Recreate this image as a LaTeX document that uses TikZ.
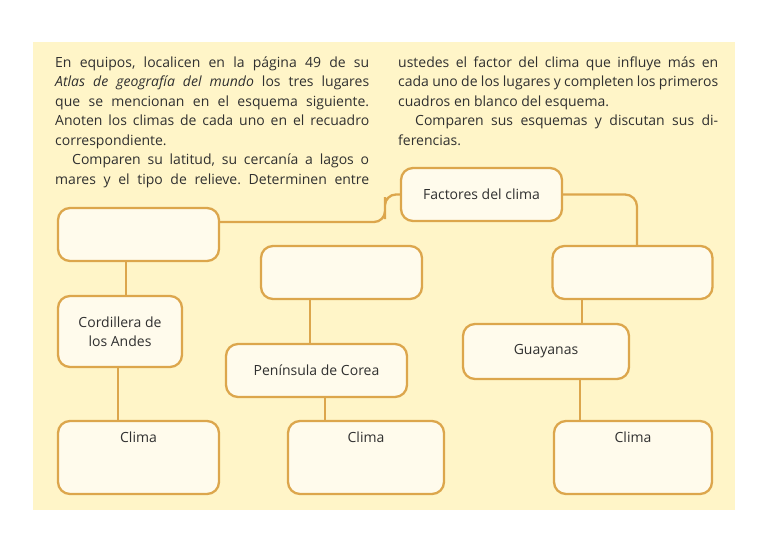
\documentclass[tikz,border=0pt]{standalone}
\usepackage{fontspec}
\setmainfont{Open Sans}
\definecolor{panel}{HTML}{FFF5C8}
\definecolor{boxfill}{HTML}{FFFBEC}
\definecolor{border}{HTML}{DCA64C}
\definecolor{ink}{HTML}{303030}
\newcommand{\fsbody}{\fontsize{14}{19.5}\selectfont\frenchspacing\hyphenpenalty=10000\relax}
\newcommand{\fslabel}{\fontsize{14}{17.5}\selectfont}
\begin{document}
\begin{tikzpicture}[x=1pt,y=-1pt,
  box/.style={draw=border, line width=2.3pt, fill=boxfill, rounded corners=12pt,
    inner sep=0pt, font=\fslabel, text=ink, align=center},
  conn/.style={draw=border, line width=2.3pt},
  para/.style={anchor=north west, inner sep=0pt, font=\fsbody, text=ink, align=justify},
  climalabel/.style={anchor=base, yshift=-23pt, inner sep=0pt, font=\fslabel, text=ink}]
\useasboundingbox (0,0) rectangle (774,542);
\fill[white] (0,0) rectangle (774,542);
\fill[panel] (33,42) rectangle (735,510);

% text columns
\node[para, text width=314pt] (lefttext) at (55,53) {\noindent\rule{0pt}{14pt}En equipos, localicen en la página 49 de su\linebreak
\textit{Atlas de geografía del mundo} los tres lugares\linebreak
que se mencionan en el esquema siguiente.\linebreak
Anoten los climas de cada uno en el recuadro\linebreak
correspondiente.\par
\hspace*{17pt}Comparen su latitud, su cercanía a lagos o\linebreak
mares y el tipo de relieve. Determinen entre\parfillskip=0pt\par};
\node[para, text width=320pt] (righttext) at (398,53) {\noindent\rule{0pt}{14pt}ustedes el factor del clima que influye más en\linebreak
cada uno de los lugares y completen los primeros\linebreak
cuadros en blanco del esquema.\par
\hspace*{17pt}Comparen sus esquemas y discutan sus di-\linebreak
ferencias.\par};

% boxes
\node[box, minimum width=161pt, minimum height=53pt] (fac) at (481.5,194.5) {Factores del clima};
\node[box, minimum width=161pt, minimum height=53pt] (a) at (138.5,234.5) {};
\node[box, minimum width=161pt, minimum height=53pt] (b) at (341.5,272.5) {};
\node[box, minimum width=160pt, minimum height=53pt] (c) at (632.5,272.5) {};
\node[box, minimum width=124pt, minimum height=71pt] (cord) at (120,331.5) {Cordillera de\\[1pt]los Andes};
\node[box, minimum width=181pt, minimum height=53pt] (pen) at (316.5,370.5) {Península de Corea};
\node[box, minimum width=166pt, minimum height=55pt] (guy) at (546,351.5) {Guayanas};
\node[box, minimum width=161pt, minimum height=73pt, label={[climalabel]north:Clima}] (cl1) at (138.5,457.5) {};
\node[box, minimum width=156pt, minimum height=73pt, label={[climalabel]north:Clima}] (cl2) at (366,457.5) {};
\node[box, minimum width=158pt, minimum height=73pt, label={[climalabel]north:Clima}] (cl3) at (633,457.5) {};

% connectors
\coordinate (bend) at (385,208);
\draw[conn, rounded corners=11pt] ([yshift=12.5pt]a.east) -| (bend) |- (fac.west);
\draw[conn, rounded corners=12pt] (fac.east) -| ([xshift=4.5pt]c.north);
\draw[conn] ([xshift=6pt]cord.north) -- ([xshift=6pt]cord.north |- a.south);
\draw[conn] ([xshift=-2pt]cord.south) -- ([xshift=-2pt]cord.south |- cl1.north);
\draw[conn] ([xshift=-6.5pt]pen.north) -- ([xshift=-6.5pt]pen.north |- b.south);
\draw[conn] ([xshift=8.5pt]pen.south) -- ([xshift=8.5pt]pen.south |- cl2.north);
\draw[conn] ([xshift=36pt]guy.north) -- ([xshift=36pt]guy.north |- c.south);
\draw[conn] ([xshift=34pt]guy.south) -- ([xshift=34pt]guy.south |- cl3.north);
\end{tikzpicture}
\end{document}
